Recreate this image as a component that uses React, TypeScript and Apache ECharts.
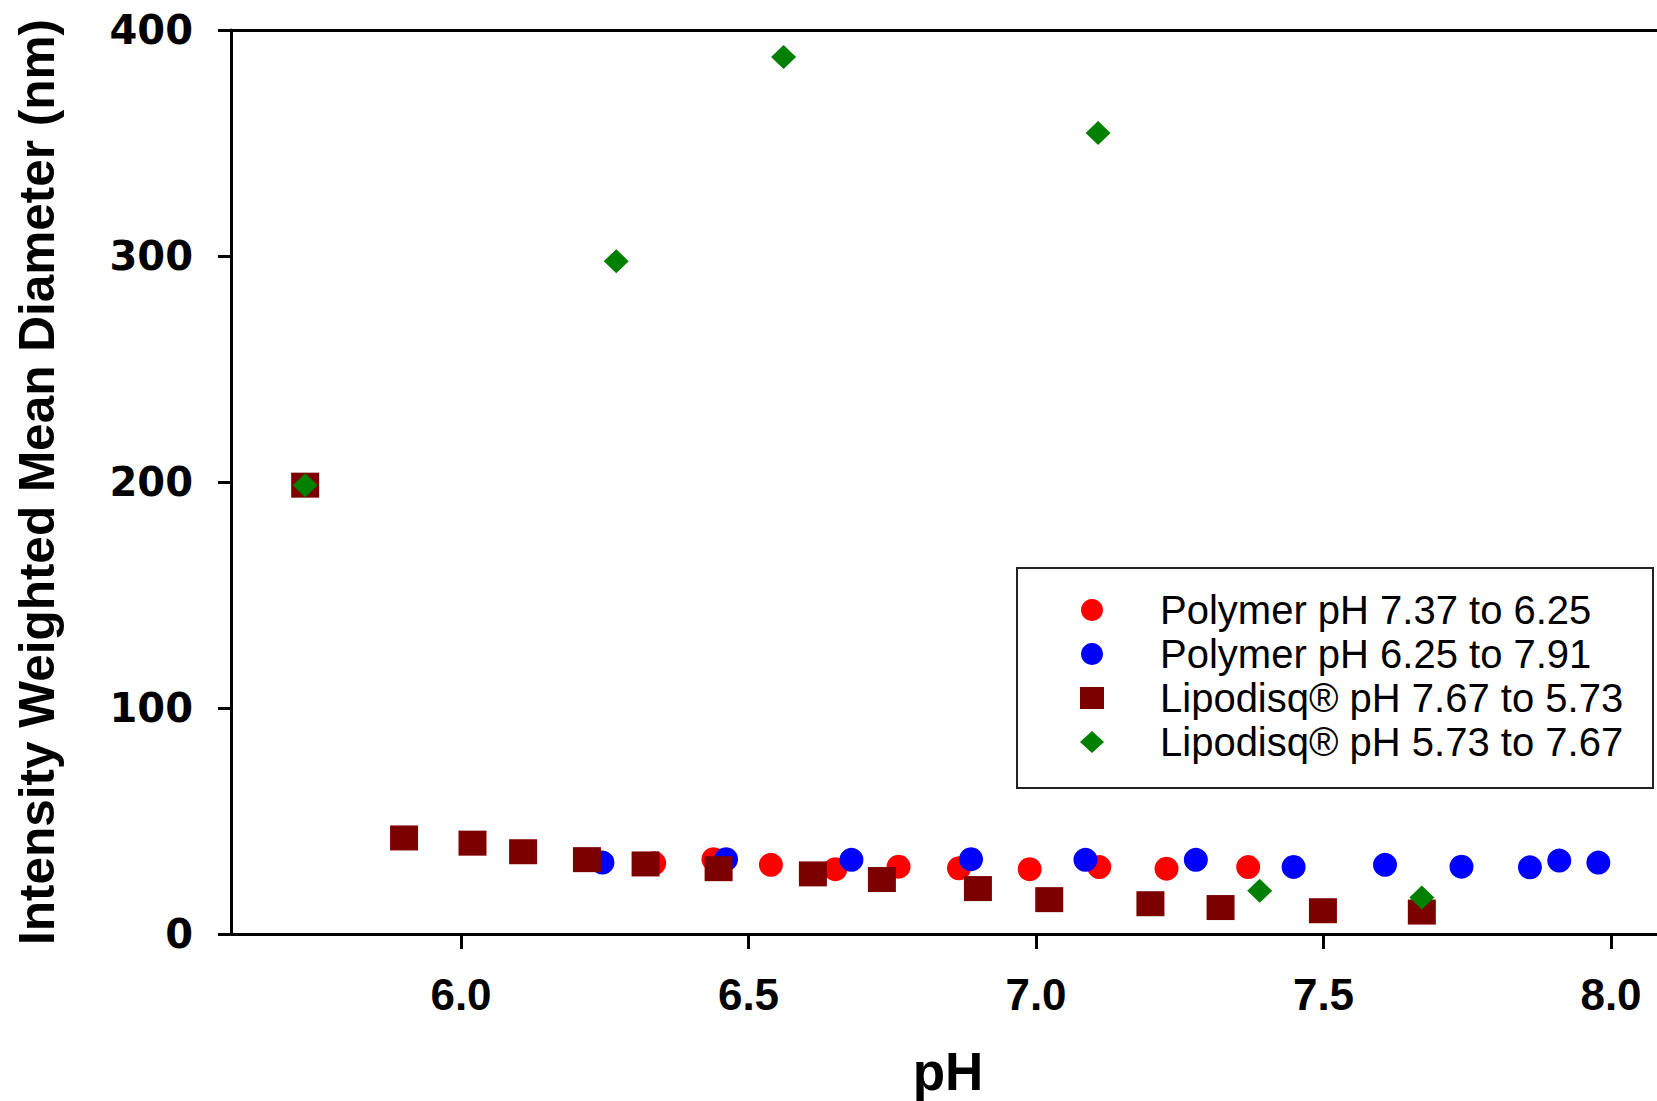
import React, { useEffect, useRef } from "react";
import * as echarts from "echarts";

const seriesNames = [
  "Polymer pH 7.37 to 6.25",
  "Polymer pH 6.25 to 7.91",
  "Lipodisq® pH 7.67 to 5.73",
  "Lipodisq® pH 5.73 to 7.67",
];

const polymerDown: [number, number][] = [
  [7.369, 29.6], [7.227, 28.9], [7.11, 29.6], [6.989, 28.7], [6.866, 29.1],
  [6.761, 29.8], [6.651, 28.7], [6.539, 30.6], [6.439, 33.1], [6.336, 31.3],
];

const polymerUp: [number, number][] = [
  [6.246, 31.6], [6.461, 33.1], [6.679, 32.8], [6.887, 33.1], [7.086, 32.8],
  [7.278, 32.8], [7.448, 29.7], [7.607, 30.6], [7.74, 29.8], [7.859, 29.5],
  [7.91, 32.5], [7.978, 31.6],
];

const lipoDown: [number, number][] = [
  [5.729, 198.6], [5.901, 42.5], [6.02, 40.2], [6.108, 36.4], [6.219, 32.9],
  [6.321, 31.0], [6.448, 28.9], [6.612, 26.6], [6.732, 24.1], [6.899, 20.1],
  [7.023, 15.2], [7.199, 13.4], [7.321, 11.7], [7.499, 10.3], [7.671, 9.7],
];

const lipoUp: [number, number][] = [
  [5.729, 198.6], [6.27, 297.7], [6.561, 388.1], [7.108, 354.4], [7.389, 19.1],
  [7.671, 16.1],
];

const xTicks = [6.0, 6.5, 7.0, 7.5, 8.0];
const yTicks = [0, 100, 200, 300, 400];

export default function App() {
  const ref = useRef<HTMLDivElement>(null);
  useEffect(() => {
    const chart = echarts.init(ref.current!, undefined, { renderer: "svg" });
    const axisLineStyle = { color: "#000", width: 3 };
    chart.setOption({
      animation: false,
      backgroundColor: "#fff",
      grid: {
        left: 231,
        top: 30,
        right: 0,
        bottom: 167,
        containLabel: false,
        outerBoundsMode: "none",
      },
      xAxis: [
        {
          type: "value",
          min: 5.6,
          max: 8.08,
          position: "bottom",
          name: "pH",
          nameLocation: "middle",
          nameGap: 111,
          nameTextStyle: {
            fontFamily: "Liberation Sans",
            fontWeight: "bold",
            fontSize: 53,
            color: "#000",
            padding: [0, 0, 0, 8],
          },
          axisLine: { show: true, onZero: false, lineStyle: axisLineStyle },
          axisTick: { show: true, length: 15, customValues: xTicks, lineStyle: axisLineStyle },
          axisLabel: {
            customValues: xTicks,
            formatter: (v: number) => v.toFixed(1),
            fontFamily: "Liberation Sans",
            fontWeight: "bold",
            fontSize: 44,
            color: "#000",
            margin: 38,
          },
          splitLine: { show: false },
        },
        {
          type: "value",
          min: 5.6,
          max: 8.08,
          position: "top",
          axisLine: { show: true, onZero: false, lineStyle: axisLineStyle },
          axisTick: { show: false },
          axisLabel: { show: false },
          splitLine: { show: false },
        },
      ],
      yAxis: {
        type: "value",
        min: 0,
        max: 400,
        interval: 100,
        name: "Intensity Weighted Mean Diameter (nm)",
        nameLocation: "middle",
        nameGap: 170,
        nameTextStyle: { fontFamily: "Liberation Sans", fontWeight: "bold", fontSize: 49.5, color: "#000" },
        axisLine: { show: true, onZero: false, lineStyle: axisLineStyle },
        axisTick: { show: true, length: 13, customValues: yTicks, lineStyle: axisLineStyle },
        axisLabel: {
          customValues: yTicks,
          fontFamily: "DejaVu Sans",
          fontWeight: "bold",
          fontSize: 40,
          color: "#000",
          margin: 38,
        },
        splitLine: { show: false },
      },
      legend: {
        orient: "vertical",
        left: 1017,
        top: 568,
        itemWidth: 24,
        itemHeight: 22,
        itemGap: 4,
        padding: [22, 0, 26, 63],
        borderColor: "#222",
        borderWidth: 2,
        backgroundColor: "#fff",
        textStyle: {
          fontFamily: "Liberation Sans",
          fontSize: 40,
          lineHeight: 40,
          color: "#000",
          padding: [0, 0, 0, 51],
          width: 493,
        },
        data: seriesNames,
      },
      series: [
        {
          name: seriesNames[0],
          type: "scatter",
          symbol: "circle",
          symbolSize: 24,
          itemStyle: { color: "#ff0000", opacity: 1 },
          data: polymerDown,
        },
        {
          name: seriesNames[1],
          type: "scatter",
          symbol: "circle",
          symbolSize: 24,
          itemStyle: { color: "#0000ff", opacity: 1 },
          data: polymerUp,
        },
        {
          name: seriesNames[2],
          type: "scatter",
          symbol: "rect",
          symbolSize: [28, 25],
          itemStyle: { color: "#7d0000", opacity: 1 },
          data: lipoDown,
        },
        {
          name: seriesNames[3],
          type: "scatter",
          symbol: "diamond",
          symbolSize: [25, 24],
          itemStyle: { color: "#008000", opacity: 1 },
          data: lipoUp,
        },
      ],
    });
    return () => chart.dispose();
  }, []);
  return (
    <div
      ref={ref}
      style={{ position: "fixed", left: 0, top: 0, width: 1657, height: 1101, background: "#fff" }}
    />
  );
}
